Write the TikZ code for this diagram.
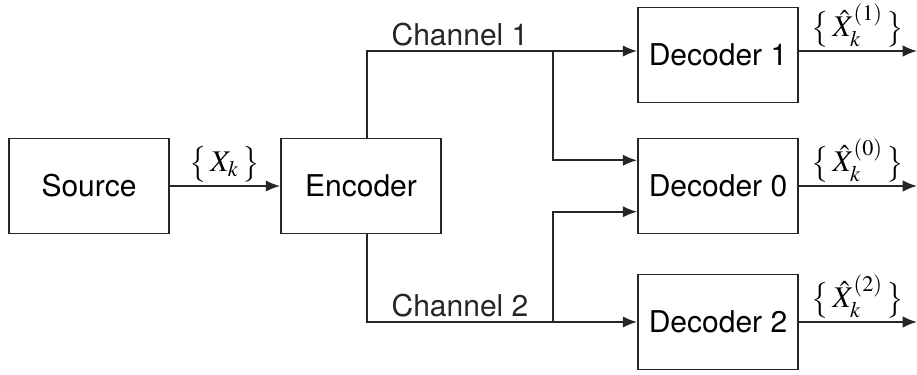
\documentclass[tikz,border=0pt]{standalone}
\usepackage{amsmath}
\usepackage{mathptmx}
\usepackage{fontspec}
\setmainfont{TeX Gyre Heros}
\usepackage{tikz}
\usetikzlibrary{positioning, arrows, arrows.meta}

\tikzset{
  blk/.style={draw, semithick, gray!30!black, text=black, minimum width=1.97cm, minimum height=1.17cm, inner sep=0pt},
  wire/.style={semithick, gray!30!black},
  arr/.style={wire, -{Latex[length=5pt,width=4pt]}},
  lbl/.style={above=0pt, inner sep=1pt, text=black},
}
\newcommand{\est}[1]{$\bigl\{\,\hat{X}_k^{(#1)}\,\bigr\}$}

\begin{document}
\begin{tikzpicture}[x=0.0123cm, y=-0.0123cm, font=\fontsize{10.5}{12}\selectfont]
\useasboundingbox (0,0) rectangle (917,374);
% boxes
\node[blk] (src) at (89,186) {Source};
\node[blk] (enc) at (361,186) {Encoder};
\node[blk] (dec1) at (718,55) {Decoder 1};
\node[blk] (dec0) at (718,186) {Decoder 0};
\node[blk] (dec2) at (718,322) {Decoder 2};
% split and branch points
\coordinate (up) at (367,51);
\coordinate (dn) at (367,322);
\coordinate (bup) at (553,51);
\coordinate (bdn) at (553,322);
\coordinate (out1) at (917,51);
\coordinate (out0) at (917,186);
\coordinate (out2) at (917,322);
% source to encoder
\draw[arr] (src) -- node[lbl] {$\bigl\{\,X_k\,\bigr\}$} (enc);
% channel 1
\draw[wire] (enc.north -| up) -- (up) -- node[above=-2pt] {Channel 1} (bup);
\draw[arr] (bup) -- (dec1.west |- bup);
\draw[arr] (bup) |- ([yshift=9pt]dec0.west);
% channel 2
\draw[wire] (enc.south -| dn) -- (dn) -- node[above=-2pt] {Channel 2} (bdn);
\draw[arr] (bdn) -- (dec2.west |- bdn);
\draw[arr] (bdn) |- ([yshift=-9pt]dec0.west);
% outputs
\draw[arr] (dec1.east |- out1) -- node[lbl] {\est{1}} (out1);
\draw[arr] (dec0.east) -- node[lbl] {\est{0}} (out0);
\draw[arr] (dec2.east) -- node[lbl] {\est{2}} (out2);
\end{tikzpicture}
\end{document}
